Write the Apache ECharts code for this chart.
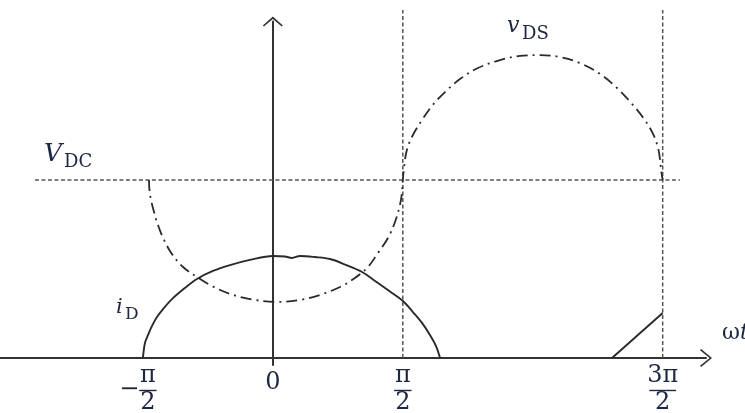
<!DOCTYPE html>
<html>
<head>
<meta charset="utf-8">
<script src="https://cdn.jsdelivr.net/npm/echarts@6/dist/echarts.min.js"></script>
<style>
  html, body { margin: 0; padding: 0; background: #fff; }
  #chart { width: 745px; height: 413px; }
</style>
</head>
<body>
<div id="chart"></div>
<script>
// Angle ωt in degrees; voltage and current normalised so that V_DC = 1.
const tickValues = [-90, 0, 90, 270];
const tickLabels = ['−π/2', '0', 'π/2', '3π/2'];

const vdcLevel = 1;
const vdcSpan = [-164.8, 281.9];
const guideAngles = [90, 270];
const guideTop = 1.955;

// drain current i_D : main conduction lobe
const iDAngle = [-90, -88.6, -86.5, -83.7, -80.3, -76.1, -69.9, -61.0, -52.6, -41.5, -29.7, -15.9, 0, 8.4, 13.2, 18.8, 29.2,
                 39.6, 50.0, 61.8, 70.8, 81.1, 90.1, 97.0, 103.3, 108.8, 113.0, 115.8];
const iDValue = [0, 0.084, 0.129, 0.18, 0.23, 0.275, 0.331, 0.393, 0.444, 0.489, 0.522, 0.551, 0.573, 0.57, 0.562, 0.573, 0.567,
                 0.556, 0.525, 0.483, 0.433, 0.374, 0.32, 0.258, 0.197, 0.129, 0.067, 0];
// drain current i_D : rising ramp before 3π/2
const iDRampAngle = [234.9, 270];
const iDRampValue = [0, 0.253];

// drain-source voltage v_DS
const vDSAngle = [-85.8, -85.5, -84.4, -82.3, -79.6, -75.4, -69.9, -62.2, -52.6, -42.2, -29.7, -15.9, 1.5, 18.8, 32.6, 46.5,
                  56.8, 65.8, 72.8, 79.7, 84.6, 88.0, 89.4, 90,
                  91.0, 92.8, 97.0, 103.3, 110.2, 119.2, 129.6, 142.0, 157.3, 171.2, 185.0, 198.9, 212.7, 226.6, 238.4,
                  248.8, 257.1, 263.4, 266.8, 268.2, 268.9, 270];
const vDSValue = [1.0, 0.944, 0.888, 0.82, 0.747, 0.663, 0.584, 0.511, 0.455, 0.404, 0.36, 0.331, 0.315, 0.326, 0.354, 0.399,
                  0.449, 0.511, 0.59, 0.674, 0.764, 0.86, 0.927, 1.0,
                  1.079, 1.169, 1.253, 1.337, 1.416, 1.494, 1.567, 1.629, 1.674, 1.697, 1.702, 1.691, 1.657, 1.596, 1.517,
                  1.427, 1.343, 1.258, 1.18, 1.112, 1.056, 1.0];

const zip = (xs, ys) => xs.map((x, i) => [x, ys[i]]);

const inkText = '#1d2742';
const inkLine = '#2a2a2a';
const serif = '"DejaVu Serif", "Liberation Serif", serif';

// open chevron arrow heads (tip pointing "up" in symbol space)
const arrowY = 'path://M0,8.8L10,0L20,8.8L18.9,10L10,2.3L1.1,10Z';
const arrowX = 'path://M0,10.8L9,0L18,10.8L16.8,12L9,2.4L1.2,12Z';

const chart = echarts.init(document.getElementById('chart'), null, { renderer: 'canvas' });

function textStyle(text, font, align) {
  return { text: text, font: font, fill: inkText, align: align, verticalAlign: 'middle', textAlign: align, textVerticalAlign: 'middle' };
}

function renderTick(params, api) {
  const label = tickLabels[params.dataIndex];
  const p = api.coord([api.value(0), 0]);
  const font = '24px ' + serif;
  const children = [];
  if (label.indexOf('/') < 0) {
    children.push({ type: 'text', x: p[0], y: p[1] + 25, style: textStyle(label, font, 'center') });
  } else {
    let sign = '';
    let body = label;
    if (body[0] === '−') { sign = '−'; body = body.slice(1); }
    const parts = body.split('/');
    const cx = p[0] + (sign ? 5 : 0);
    const half = 4 + 4.7 * parts[0].length;
    children.push({ type: 'text', x: cx, y: p[1] + 18, style: textStyle(parts[0], font, 'center') });
    children.push({ type: 'line', shape: { x1: cx - half, y1: p[1] + 32.5, x2: cx + half, y2: p[1] + 32.5 },
      style: { stroke: inkText, lineWidth: 1.4 } });
    children.push({ type: 'text', x: cx, y: p[1] + 45, style: textStyle(parts[1], font, 'center') });
    if (sign) {
      children.push({ type: 'text', x: cx - half - 10, y: p[1] + 32, style: textStyle(sign, font, 'center') });
    }
  }
  return { type: 'group', children: children };
}

function txt(x, y, text, font) {
  return { type: 'text', x: x, y: y, silent: true, style: textStyle(text, font, 'left') };
}

const option = {
  animation: false,
  backgroundColor: '#ffffff',
  grid: { left: 0, width: 706, top: 21.6, height: 343.5 },
  xAxis: {
    type: 'value', min: -189, max: 300,
    axisLine: { show: true, onZero: true, lineStyle: { color: '#333', width: 2 }, symbol: ['none', arrowX], symbolSize: [18, 12] },
    axisTick: { show: false }, axisLabel: { show: false }, splitLine: { show: false }
  },
  yAxis: {
    type: 'value', min: -0.04, max: 1.89,
    axisLine: { show: true, onZero: true, lineStyle: { color: '#333', width: 2 }, symbol: ['none', arrowY], symbolSize: [20, 10] },
    axisTick: { show: false }, axisLabel: { show: false }, splitLine: { show: false }
  },
  series: [
    { name: 'V_DC', type: 'line', clip: false, symbol: 'none', silent: true,
      data: vdcSpan.map(x => [x, vdcLevel]),
      lineStyle: { color: '#555', width: 1.5, type: [4, 2.5] } },
    ...guideAngles.map(a => ({ type: 'line', clip: false, symbol: 'none', silent: true,
      data: [[a, 0], [a, guideTop]],
      lineStyle: { color: '#555', width: 1.5, type: [4, 2.5] } })),
    { name: 'v_DS', type: 'line', clip: false, symbol: 'none', smooth: 0.35, silent: true,
      data: zip(vDSAngle, vDSValue),
      lineStyle: { color: inkLine, width: 1.8, type: [11, 5, 2, 5] } },
    { name: 'i_D', type: 'line', clip: false, symbol: 'none', smooth: 0.35, silent: true,
      data: zip(iDAngle, iDValue),
      lineStyle: { color: inkLine, width: 1.9 } },
    { name: 'i_D ramp', type: 'line', clip: false, symbol: 'none', silent: true,
      data: zip(iDRampAngle, iDRampValue),
      lineStyle: { color: inkLine, width: 1.9 } },
    { type: 'custom', clip: false, silent: true,
      data: tickValues.map(v => [v, 0]),
      renderItem: renderTick }
  ],
  graphic: [
    txt(44, 154, 'V', 'italic 25px ' + serif),
    txt(64, 162, 'DC', '18px ' + serif),
    txt(507, 26, 'v', 'italic 22px ' + serif),
    txt(522, 34, 'DS', '18px ' + serif),
    txt(116, 308, 'i', 'italic 21px ' + serif),
    txt(125, 315, 'D', '17px ' + serif),
    txt(722, 333, 'ω', '22px ' + serif),
    txt(740, 333, 't', 'italic 22px ' + serif)
  ]
};

chart.setOption(option);
</script>
</body>
</html>
